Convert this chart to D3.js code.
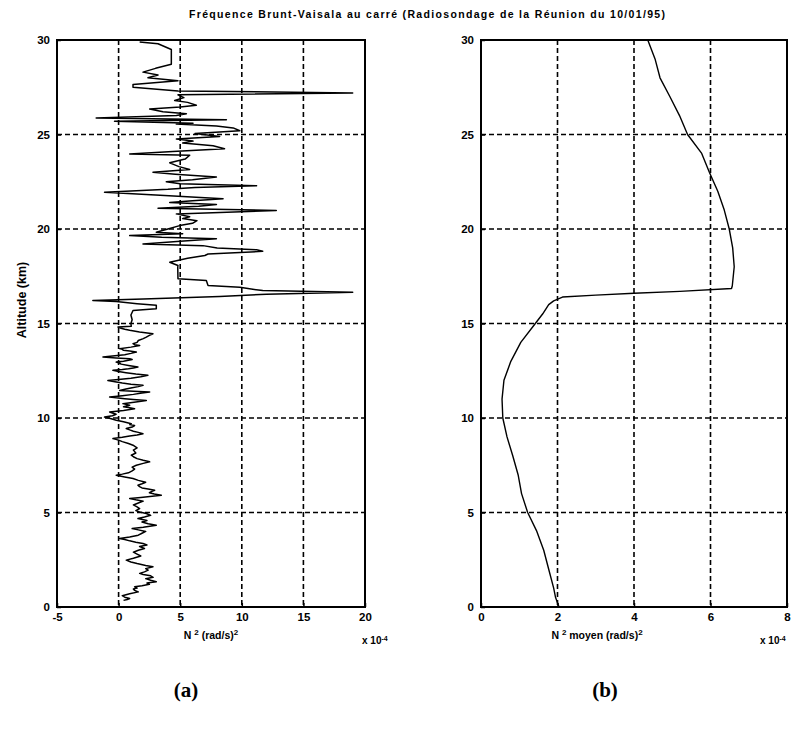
<!DOCTYPE html>
<html><head><meta charset="utf-8">
<script src="https://cdn.jsdelivr.net/npm/d3@7"></script>
<style>body{margin:0;background:#fff}svg{display:block}</style>
</head><body>
<svg id="c" width="793" height="730"></svg>
<script>
// ---- DATA ----
const titleText = "Fréquence Brunt-Vaisala au carré (Radiosondage de la Réunion du 10/01/95)";
const altTicks = [0, 5, 10, 15, 20, 25, 30];
const leftXTicks = [-5, 0, 5, 10, 15, 20];
const rightXTicks = [0, 2, 4, 6, 8];
const rightXTickLabels = ["0", "2", "4", "6", "8"];

// Panel (a): raw N² (x 1e-4) vs altitude (km)
const altA = [0.35,0.4,0.45,0.52,0.6,0.7,0.8,0.88,0.95,1.0,1.07,1.13,1.2,1.27,1.34,1.42,1.5,1.57,1.65,1.72,1.78,1.86,1.95,2.03,2.13,2.2,2.3,2.38,2.48,2.58,2.7,2.8,2.9,3.0,3.1,3.2,3.28,3.36,3.43,3.5,3.57,3.63,3.7,3.8,3.9,4.0,4.08,4.15,4.22,4.33,4.4,4.5,4.58,4.68,4.76,4.85,4.95,5.03,5.1,5.21,5.3,5.4,5.5,5.6,5.67,5.74,5.8,5.91,5.98,6.05,6.12,6.18,6.24,6.3,6.37,6.44,6.52,6.6,6.7,6.8,6.88,6.97,7.03,7.1,7.2,7.3,7.4,7.5,7.6,7.68,7.76,7.85,7.95,8.03,8.15,8.3,8.42,8.56,8.65,8.75,8.83,8.91,8.98,9.05,9.1,9.17,9.24,9.3,9.37,9.44,9.52,9.6,9.65,9.7,9.8,9.88,9.96,10.05,10.12,10.2,10.26,10.32,10.4,10.49,10.55,10.6,10.68,10.76,10.85,10.93,10.98,11.02,11.07,11.11,11.18,11.25,11.32,11.38,11.42,11.46,11.53,11.6,11.66,11.73,11.79,11.85,11.92,11.99,12.05,12.1,12.18,12.26,12.33,12.4,12.46,12.52,12.56,12.6,12.65,12.7,12.78,12.85,12.9,12.96,13.0,13.05,13.1,13.14,13.18,13.23,13.3,13.35,13.42,13.49,13.54,13.58,13.63,13.67,13.75,13.84,13.88,13.93,14.0,14.1,14.2,14.28,14.37,14.46,14.55,14.64,14.7,14.75,14.81,14.85,15.0,15.2,15.45,15.69,15.75,15.78,15.96,16.05,16.17,16.22,16.3,16.43,16.55,16.66,16.74,16.85,16.92,17.01,17.27,17.37,18.0,18.07,18.24,18.45,18.6,18.68,18.82,18.9,19.0,19.12,19.21,19.35,19.48,19.56,19.65,19.75,19.83,20.0,20.18,20.3,20.44,20.55,20.65,20.8,20.98,21.1,21.2,21.3,21.4,21.5,21.6,21.8,21.95,22.1,22.2,22.29,22.4,22.5,22.6,22.75,22.9,23.0,23.15,23.3,23.5,23.7,23.9,23.97,24.1,24.25,24.4,24.55,24.65,24.76,24.9,25.05,25.2,25.35,25.45,25.55,25.6,25.7,25.78,25.87,26.0,26.1,26.2,26.35,26.45,26.55,26.7,26.8,26.95,27.1,27.2,27.3,27.5,27.65,27.84,28.0,28.15,28.3,28.5,28.72,29.5,29.8,29.9];
const n2A = [0.4,0.7,0.9,0.5,0.3,0.9,1.6,1.3,1.2,1.5,1.3,1.9,2.5,2.3,3.06,2.6,2.2,2.8,2.6,2.0,1.71,2.1,2.4,2.2,2.79,2.2,1.5,1.0,0.62,1.2,1.8,1.5,1.2,1.6,2.1,1.7,2.3,1.98,1.4,0.9,0.5,0.08,0.9,1.6,1.9,2.2,1.6,1.1,2.0,3.06,2.4,1.9,2.3,1.57,2.1,2.6,2.25,1.7,1.4,1.71,1.5,1.2,1.6,2.0,1.4,0.9,1.8,3.47,2.9,2.5,2.7,2.93,2.4,1.9,1.7,1.57,1.9,2.2,1.6,1.17,0.5,-0.19,0.3,0.8,1.1,1.3,1.1,1.44,2.0,2.52,2.0,1.5,1.2,1.03,1.4,1.2,1.5,1.17,0.8,0.3,0.0,-0.46,0.3,0.9,1.5,1.98,1.6,1.2,0.9,0.62,1.1,1.3,0.9,1.03,0.4,-0.19,-0.6,-1.14,-0.5,-0.2,-0.5,-0.73,0.4,1.3,0.8,0.4,0.9,0.35,1.4,2.25,1.2,0.5,-0.2,-0.73,0.3,1.2,1.9,2.52,1.2,0.08,0.6,1.1,1.6,1.98,1.0,0.3,-0.3,-0.87,0.2,1.0,1.8,2.38,1.4,0.6,0.0,-0.46,0.3,0.8,1.2,1.57,0.8,0.2,0.1,-0.19,0.4,0.8,1.1,0.9,-0.2,-1.27,-0.3,0.5,1.0,1.44,0.9,0.4,0.3,0.08,1.0,1.71,1.3,1.17,1.5,1.6,2.0,2.25,2.5,2.79,1.7,0.9,0.5,0.2,-0.05,1.03,1.0,1.1,1.0,1.17,2.5,3.06,3.06,1.5,-0.19,-2.09,2.0,8.2,12.0,19.0,11.7,10.5,9.84,7.26,7.12,4.82,4.8,4.82,4.15,5.6,7.0,7.26,11.7,11.2,8.0,6.85,1.98,5.0,7.94,3.5,0.9,5.2,3.06,4.0,4.96,6.0,6.36,5.2,5.77,4.69,12.8,3.2,6.5,7.94,4.15,6.0,8.48,3.0,-1.14,4.0,6.2,11.2,5.0,3.87,6.0,7.94,4.6,2.79,5.77,4.9,4.15,5.4,5.77,0.9,4.4,8.6,7.67,5.2,6.04,4.69,8.2,6.2,9.84,9.3,7.94,4.69,6.04,-0.33,8.75,-1.82,4.69,5.5,3.6,2.52,5.0,6.31,5.6,4.55,5.3,4.82,19.0,4.82,1.17,1.17,4.82,2.38,3.2,1.98,3.0,4.28,4.28,3.2,1.71];

// Panel (b): mean N² (x 1e-4) vs altitude (km)
const altB = [0,0.5,1,2,3,4,5,6,7,8,9,10,11,12,13,14,15,15.5,16,16.2,16.4,16.5,16.6,16.7,16.85,17,18,19,20,21,22,23,24,25,26,27,28,29,30];
const n2B = [2.04,1.95,1.9,1.77,1.64,1.46,1.22,1.06,0.97,0.83,0.68,0.57,0.55,0.6,0.78,1.04,1.42,1.61,1.77,1.9,2.13,3.0,4.0,5.2,6.55,6.57,6.62,6.58,6.49,6.36,6.19,5.97,5.77,5.4,5.19,4.94,4.68,4.55,4.36];

// ---- DRAW ----
const svg = d3.select("#c");
const FONT = "'Liberation Sans', Arial, sans-serif";
const yTop = 40, yBot = 607;

svg.append("text").attr("x", 427).attr("y", 18).attr("text-anchor", "middle")
  .attr("font-family", FONT).attr("font-weight", "bold").attr("font-size", 10.5)
  .attr("textLength", 476).text(titleText);

function panel(cfg) {
  const x = d3.scaleLinear().domain(cfg.xDomain).range([cfg.x0, cfg.x1]);
  const y = d3.scaleLinear().domain([0, 30]).range([yBot, yTop]);
  const g = svg.append("g");
  const cp = "clip" + cfg.id;
  svg.append("clipPath").attr("id", cp).append("rect")
    .attr("x", cfg.x0).attr("y", yTop).attr("width", cfg.x1 - cfg.x0).attr("height", yBot - yTop);
  // grid
  const grid = g.append("g").attr("stroke", "#000").attr("stroke-width", 1.6).attr("stroke-dasharray", "5,3");
  cfg.xTicks.slice(1, -1).forEach(t => grid.append("line").attr("x1", x(t)).attr("x2", x(t)).attr("y1", yTop).attr("y2", yBot));
  altTicks.slice(1, -1).forEach(t => grid.append("line").attr("x1", cfg.x0).attr("x2", cfg.x1).attr("y1", y(t)).attr("y2", y(t)));
  // line
  const line = d3.line().x(d => x(d[1])).y(d => y(d[0]));
  g.append("path").datum(cfg.alt.map((a, i) => [a, cfg.val[i]]))
    .attr("clip-path", `url(#${cp})`)
    .attr("fill", "none").attr("stroke", "#000").attr("stroke-width", cfg.lw).attr("stroke-linejoin", "round")
    .attr("d", line);
  // frame
  g.append("rect").attr("x", cfg.x0).attr("y", yTop).attr("width", cfg.x1 - cfg.x0).attr("height", yBot - yTop)
    .attr("fill", "none").attr("stroke", "#000").attr("stroke-width", 2);
  // axes
  const ax = g.append("g").attr("transform", `translate(0,${yBot})`)
    .call(d3.axisBottom(x).tickValues(cfg.xTicks).tickFormat((d, i) => cfg.xLabels[i]).tickSize(-4).tickPadding(6));
  const ay = g.append("g").attr("transform", `translate(${cfg.x0},0)`)
    .call(d3.axisLeft(y).tickValues(altTicks).tickSize(-4).tickPadding(7));
  [ax, ay].forEach(a => {
    a.select(".domain").remove();
    a.selectAll("line").attr("stroke", "#000").attr("stroke-width", 1.5);
    a.selectAll("text").attr("font-family", FONT).attr("font-weight", "bold").attr("font-size", 11.5).attr("fill", "#000");
  });
  // x label
  const xl = svg.append("text").attr("x", cfg.labelX).attr("y", 639).attr("text-anchor", "middle")
    .attr("font-family", FONT).attr("font-weight", "bold").attr("font-size", 10.5);
  cfg.labelParts.forEach(p => {
    const t = xl.append("tspan").text(p.t);
    if (p.sup) t.attr("baseline-shift", "super").attr("font-size", 8);
  });
  const xm = svg.append("text").attr("x", cfg.multX).attr("y", 644)
    .attr("font-family", FONT).attr("font-weight", "bold").attr("font-size", 10);
  xm.append("tspan").text("x 10");
  xm.append("tspan").attr("baseline-shift", "super").attr("font-size", 7).text("-4");
  svg.append("text").attr("x", cfg.tagX).attr("y", 697).attr("text-anchor", "middle")
    .attr("font-family", "'Liberation Serif', 'Times New Roman', serif").attr("font-weight", "bold")
    .attr("font-size", 21).text(cfg.tag);
}

panel({id: "a", xDomain: [-5, 20], x0: 57, x1: 365, xTicks: leftXTicks, xLabels: leftXTicks.map(String),
  alt: altA, val: n2A, lw: 1.5, labelX: 211,
  labelParts: [{t: "N "}, {t: "2", sup: true}, {t: " (rad/s)"}, {t: "2", sup: true}],
  multX: 362, tagX: 186, tag: "(a)"});
panel({id: "b", xDomain: [0, 8], x0: 481, x1: 787, xTicks: rightXTicks, xLabels: rightXTickLabels,
  alt: altB, val: n2B, lw: 1.4, labelX: 597,
  labelParts: [{t: "N "}, {t: "2", sup: true}, {t: " moyen (rad/s)"}, {t: "2", sup: true}],
  multX: 760, tagX: 605, tag: "(b)"});

// y-axis label
svg.append("text").attr("transform", "translate(26,300) rotate(-90)").attr("text-anchor", "middle")
  .attr("font-family", FONT).attr("font-weight", "bold").attr("font-size", 12.5).text("Altitude (km)");
</script>
</body></html>
